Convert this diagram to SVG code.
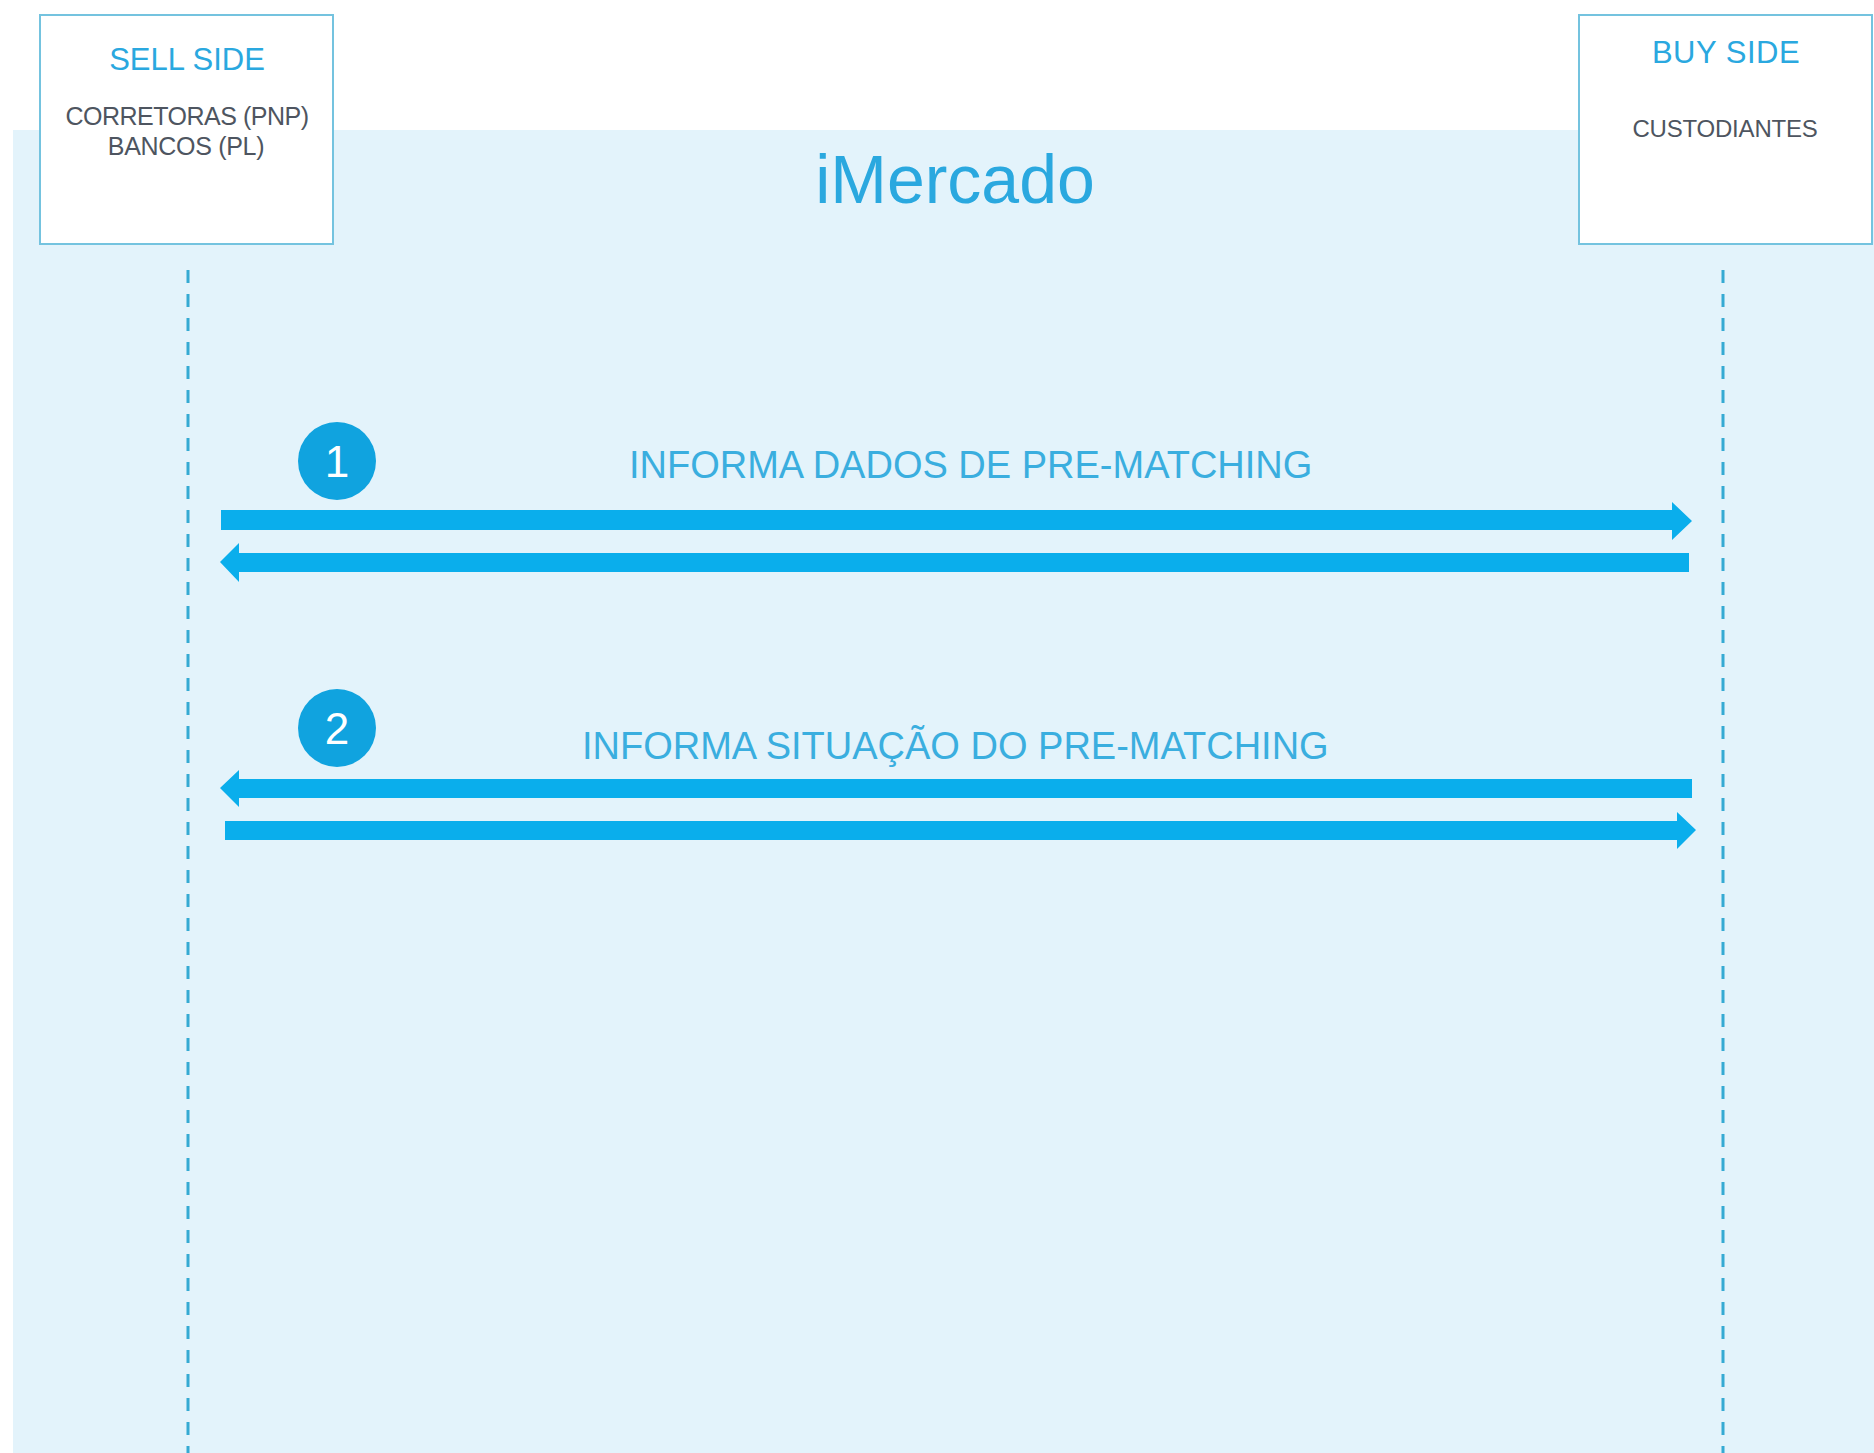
<svg xmlns="http://www.w3.org/2000/svg" width="1874" height="1453" viewBox="0 0 1874 1453">
<defs>
<style>
.box{fill:#ffffff;stroke:#74C3DF;stroke-width:2}
.title{font-family:"Liberation Sans",Arial,sans-serif;fill:#2AA8DF;text-anchor:middle}
.sub{font-family:"Liberation Sans",Arial,sans-serif;fill:#4E5560;text-anchor:middle}
.life{stroke:#35AAD3;stroke-width:3;stroke-dasharray:13 11;fill:none}
.arrow{fill:#0AAEEC}
.lbl{font-family:"Liberation Sans",Arial,sans-serif;fill:#3AAEDF;font-size:38px}
.num{fill:#10A3DF}
.numt{font-family:"Liberation Sans",Arial,sans-serif;fill:#ffffff;font-size:44px;text-anchor:middle}
</style>
</defs>
<rect x="0" y="0" width="1874" height="1453" fill="#ffffff"/>
<rect x="13" y="130" width="1861" height="1323" fill="#E3F3FB"/>
<text x="955" y="203" class="title" style="font-size:68px">iMercado</text>
<g id="sell-side">
<rect class="box" x="40" y="15" width="293" height="229"/>
<text x="187" y="70" class="title" style="font-size:31px">SELL SIDE</text>
<text x="187" y="125" class="sub" style="font-size:25px;letter-spacing:-0.5px">CORRETORAS (PNP)</text>
<text x="186" y="155" class="sub" style="font-size:25px;letter-spacing:-0.3px">BANCOS (PL)</text>
</g>
<g id="buy-side">
<rect class="box" x="1579" y="15" width="293" height="229"/>
<text x="1726" y="63" class="title" style="font-size:31px;letter-spacing:0.5px">BUY SIDE</text>
<text x="1725" y="137" class="sub" style="font-size:24px;letter-spacing:-0.2px">CUSTODIANTES</text>
</g>
<g id="step1">
<circle class="num" cx="337" cy="461" r="39"/>
<text x="337" y="477" class="numt">1</text>
<text x="629" y="478" class="lbl">INFORMA DADOS DE PRE-MATCHING</text>
</g>
<g id="step2">
<circle class="num" cx="337" cy="728" r="39"/>
<text x="337" y="744" class="numt">2</text>
<text x="582" y="759" class="lbl">INFORMA SITUAÇÃO DO PRE-MATCHING</text>
</g>
<g id="connectors">
<line class="life" x1="188" y1="270" x2="188" y2="1453"/>
<line class="life" x1="1723" y1="270" x2="1723" y2="1453"/>
<polygon class="arrow" points="221,510 1672,510 1672,502 1692,521 1672,540 1672,530 221,530"/>
<polygon class="arrow" points="1689,553 239,553 239,543 220,562 239,582 239,572 1689,572"/>
<polygon class="arrow" points="1692,779 239,779 239,770 220,788 239,807 239,798 1692,798"/>
<polygon class="arrow" points="225,821 1677,821 1677,812 1696,830 1677,849 1677,840 225,840"/>
</g>
</svg>
